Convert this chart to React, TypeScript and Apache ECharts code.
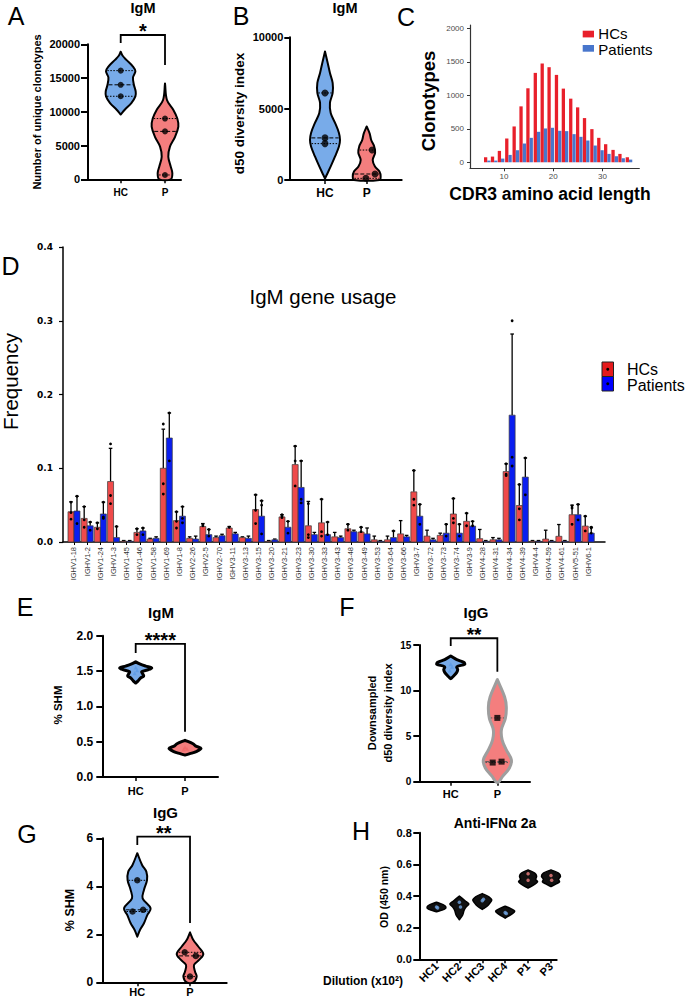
import React, { useEffect, useRef } from 'react';
import * as echarts from 'echarts';

const FONT = '"Liberation Sans", Arial, Helvetica, sans-serif';
const NARROW = '"Liberation Sans Narrow", "Liberation Sans", Arial, sans-serif';

// ---------- shared ----------
const groupLabels = ['HC', 'P'];
const HC_FILL = '#78abe9';
const P_FILL = '#f47e7e';

// ---------- Panel A ----------
const aHcPoints = [[1, 16100], [1, 14000], [1, 12300]];
const aPPoints = [[2, 9000], [2, 7100], [2, 640]];
const aHcProfile = [[18900, 0], [18300, 0.13], [17700, 0.38], [16700, 0.82], [16000, 0.98], [15100, 0.82], [14000, 0.88], [13000, 1.0], [12300, 0.98], [11300, 0.71], [10300, 0.27], [9600, 0]];
const aPProfile = [[14200, 0], [11750, 0.13], [10300, 0.55], [9000, 0.82], [7800, 0.89], [6300, 0.67], [4850, 0.33], [3350, 0.22], [1900, 0.38], [900, 0.49], [0, 0.38]];
const aBracket = [21378, 20192, 16933];

// ---------- Panel B ----------
const bHcPoints = [[1, 6100], [1, 2950], [1, 2550]];
const bPPoints = [[2.13, 2100], [2.2, 420], [1.98, 117]];
const bHcProfile = [[9000, 0], [8200, 0.18], [7500, 0.33], [6800, 0.51], [6100, 0.51], [5400, 0.33], [4700, 0.38], [4000, 0.67], [3300, 0.93], [2800, 1.0], [2350, 0.93], [1650, 0.67], [950, 0.38], [350, 0.11], [100, 0]];
const bPProfile = [[3750, 0], [3250, 0.2], [2800, 0.3], [2350, 0.5], [1900, 0.56], [1400, 0.4], [950, 0.55], [600, 0.85], [250, 0.93], [0, 0.85]];

// ---------- Panel C ----------
const cdrLength = [6.6, 8.0, 9.4, 10.9, 12.4, 13.8, 15.2, 16.7, 18.1, 19.5, 21.0, 22.4, 23.9, 25.3, 26.7, 28.2, 29.6, 31.0, 32.5, 33.9, 35.4];
const cdrHC = [75, 85, 170, 355, 535, 835, 1105, 1335, 1475, 1420, 1305, 1100, 950, 820, 660, 495, 365, 270, 185, 125, 75];
const cdrPatients = [25, 25, 55, 110, 180, 280, 365, 455, 505, 515, 470, 465, 420, 380, 325, 250, 180, 125, 90, 60, 40];
const cdrYTicks = [0, 500, 1000, 1500, 2000];
const cdrXTicks = [10, 20, 30];

// ---------- Panel D ----------
const genes = ['IGHV1-18', 'IGHV1-2', 'IGHV1-24', 'IGHV1-3', 'IGHV1-45', 'IGHV1-46', 'IGHV1-58', 'IGHV1-69', 'IGHV1-8', 'IGHV2-26', 'IGHV2-5', 'IGHV2-70', 'IGHV3-11', 'IGHV3-13', 'IGHV3-15', 'IGHV3-20', 'IGHV3-21', 'IGHV3-23', 'IGHV3-30', 'IGHV3-33', 'IGHV3-43', 'IGHV3-48', 'IGHV3-49', 'IGHV3-53', 'IGHV3-64', 'IGHV3-66', 'IGHV3-7', 'IGHV3-72', 'IGHV3-73', 'IGHV3-74', 'IGHV3-9', 'IGHV4-28', 'IGHV4-31', 'IGHV4-34', 'IGHV4-39', 'IGHV4-4', 'IGHV4-59', 'IGHV4-61', 'IGHV5-51', 'IGHV6-1'];
const hcMean = [0.041, 0.032, 0.020, 0.082, 0.001, 0.013, 0.004, 0.100, 0.029, 0.005, 0.021, 0.006, 0.019, 0.006, 0.044, 0.001, 0.034, 0.105, 0.022, 0.026, 0.007, 0.018, 0.0135, 0.003, 0.003, 0.011, 0.068, 0.008, 0.009, 0.038, 0.028, 0.0045, 0.003, 0.0955, 0.0495, 0.001, 0.004, 0.0077, 0.037, 0.0216];
const hcSd = [0.0135, 0.016, 0.006, 0.045, 0.001, 0.005, 0.001, 0.053, 0.012, 0.002, 0.004, 0.002, 0.002, 0.001, 0.020, 0.001, 0.003, 0.025, 0.033, 0.032, 0.006, 0.006, 0.0065, 0.005, 0.005, 0.018, 0.029, 0.008, 0.003, 0.021, 0.011, 0.0125, 0.003, 0.0105, 0.0285, 0.001, 0.012, 0.016, 0.013, 0.0134];
const paMean = [0.042, 0.022, 0.038, 0.006, 0.001, 0.015, 0.005, 0.141, 0.035, 0.004, 0.010, 0.0085, 0.011, 0.005, 0.035, 0.003, 0.020, 0.074, 0.010, 0.010, 0.006, 0.014, 0.011, 0.001, 0.006, 0.007, 0.035, 0.003, 0.012, 0.012, 0.0216, 0.001, 0.003, 0.172, 0.088, 0.001, 0.001, 0.001, 0.037, 0.012];
const paSd = [0.020, 0.005, 0.016, 0.015, 0.001, 0.004, 0.002, 0.034, 0.013, 0.004, 0.007, 0.002, 0.002, 0.003, 0.021, 0.001, 0.008, 0.036, 0.003, 0.017, 0.002, 0.002, 0.008, 0.001, 0.009, 0.002, 0.016, 0.002, 0.012, 0.012, 0.0064, 0.001, 0.002, 0.110, 0.026, 0.001, 0.001, 0.001, 0.014, 0.008];
const hcGenePoints = [[1, 0.054], [1, 0.040], [1, 0.031], [2, 0.048], [2, 0.020], [2, 0.030], [3, 0.026], [3, 0.018], [4, 0.133], [4, 0.063], [4, 0.052], [6, 0.018], [6, 0.010], [8, 0.160], [8, 0.079], [8, 0.065], [9, 0.041], [9, 0.019], [9, 0.028], [11, 0.024], [11, 0.022], [13, 0.020], [15, 0.064], [15, 0.025], [15, 0.043], [17, 0.037], [17, 0.035], [17, 0.033], [18, 0.130], [18, 0.076], [18, 0.110], [19, 0.052], [19, 0.006], [19, 0.010], [20, 0.058], [20, 0.014], [20, 0.008], [22, 0.024], [22, 0.016], [23, 0.020], [23, 0.014], [27, 0.097], [27, 0.058], [27, 0.050], [30, 0.059], [30, 0.032], [30, 0.026], [31, 0.039], [31, 0.022], [34, 0.106], [34, 0.090], [34, 0.092], [35, 0.078], [35, 0.045], [35, 0.030], [39, 0.049], [39, 0.046], [39, 0.024], [40, 0.035], [40, 0.015]];
const paGenePoints = [[1, 0.062], [1, 0.025], [2, 0.027], [2, 0.016], [3, 0.054], [3, 0.032], [3, 0.034], [4, 0.021], [6, 0.019], [6, 0.010], [8, 0.175], [8, 0.110], [9, 0.048], [9, 0.032], [9, 0.026], [11, 0.017], [11, 0.008], [15, 0.056], [15, 0.011], [15, 0.050], [17, 0.028], [17, 0.012], [18, 0.110], [18, 0.058], [18, 0.053], [20, 0.027], [20, 0.010], [25, 0.015], [27, 0.051], [27, 0.024], [29, 0.024], [29, 0.008], [30, 0.024], [30, 0.008], [31, 0.028], [31, 0.022], [34, 0.300], [34, 0.115], [34, 0.103], [35, 0.114], [35, 0.064], [39, 0.051], [39, 0.030], [40, 0.020], [40, 0.012], [40, 0.019]];

// ---------- Panel E ----------
const eHcPoints = [[1, 1.55], [1.03, 1.51], [0.98, 1.47]];
const ePPoints = [[2, 0.42], [2.04, 0.40], [1.97, 0.39]];
const eHcProfile = [[1.63, 0], [1.60, 0.25], [1.57, 0.62], [1.545, 1.0], [1.52, 0.8], [1.49, 0.38], [1.46, 0.44], [1.43, 0.5], [1.40, 0.3], [1.36, 0.15], [1.33, 0]];
const ePProfile = [[0.52, 0], [0.47, 0.5], [0.44, 0.65], [0.405, 1.0], [0.36, 0.7], [0.33, 0.3], [0.31, 0]];
const eBracket = [1.883, 1.755, 0.641];

// ---------- Panel F ----------
const fHcPoints = [[1, 12.9], [1.03, 12.6], [0.98, 12.2]];
const fPPoints = [[2, 7.0], [1.9, 2.1], [2.09, 2.2]];
const fHcProfile = [[13.8, 0], [13.4, 0.43], [13.1, 0.93], [12.9, 1.0], [12.6, 0.43], [12.3, 0.5], [12.0, 0.43], [11.6, 0.21], [11.3, 0]];
const fPProfile = [[11.2, 0], [9.3, 0.52], [8.2, 0.64], [6.95, 0.57], [5.7, 0.29], [4.6, 0.34], [3.5, 0.64], [2.4, 1.0], [1.5, 0.86], [0.55, 0.36], [0, 0.1]];
const fBracket = [15.74, 14.89, 12.07];

// ---------- Panel G ----------
const gHcPoints = [[1, 4.25], [0.91, 2.95], [1.11, 3.02]];
const gPPoints = [[1.9, 1.25], [2.11, 1.1], [2, 0.24]];
const gHcProfile = [[5.38, 0], [4.89, 0.36], [4.61, 0.68], [4.26, 0.73], [3.85, 0.5], [3.5, 0.4], [3.08, 1.0], [2.8, 0.75], [2.46, 0.5], [2.18, 0.2], [1.9, 0]];
const gPProfile = [[2.08, 0], [1.76, 0.25], [1.49, 0.62], [1.18, 1.0], [0.93, 0.68], [0.72, 0.3], [0.44, 0.38], [0.24, 0.5], [0, 0.25]];
const gBracket = [6.07, 5.72, 2.47];

// ---------- Panel H ----------
const hCats = ['HC1', 'HC2', 'HC3', 'HC4', 'P1', 'P3'];
const hProfiles = [
  [[0.36, 0], [0.345, 0.7], [0.33, 1.0], [0.315, 0.8], [0.30, 0]],
  [[0.40, 0], [0.37, 0.6], [0.35, 1.0], [0.33, 0.7], [0.31, 0.5], [0.28, 0.35], [0.25, 0]],
  [[0.415, 0], [0.395, 0.7], [0.375, 1.0], [0.355, 0.8], [0.335, 0.5], [0.315, 0]],
  [[0.335, 0], [0.32, 0.6], [0.305, 1.0], [0.29, 0.8], [0.275, 0.4], [0.26, 0]],
  [[0.565, 0], [0.545, 0.7], [0.525, 0.9], [0.505, 0.8], [0.49, 1.0], [0.47, 0.6], [0.45, 0]],
  [[0.565, 0], [0.545, 0.8], [0.525, 1.0], [0.505, 0.8], [0.49, 0.9], [0.475, 0.5], [0.46, 0]],
];
const hHcPoints = [[1, 0.33], [1.05, 0.325], [2, 0.36], [2.05, 0.33], [3, 0.37], [3.05, 0.38], [4, 0.295], [4.05, 0.29]];
const hPPoints = [[5, 0.54], [5, 0.50], [6, 0.53], [6.03, 0.50]];

// ---------- helpers ----------
function interpWidth(profile: number[][], v: number): number {
  for (let i = 0; i < profile.length - 1; i++) {
    const [v0, w0] = profile[i];
    const [v1, w1] = profile[i + 1];
    if (v <= v0 && v >= v1) {
      const t = v0 === v1 ? 0 : (v0 - v) / (v0 - v1);
      return w0 + (w1 - w0) * t;
    }
  }
  return 0;
}

type VGroup = { pos: number; profile: number[][]; pts: number[][]; fill: string; stroke: string; lw: number; maxHalf: number; lines: boolean; lineColor?: string };

function violinSeries(gi: number, groups: VGroup[]) {
  return {
    type: 'custom', xAxisIndex: gi, yAxisIndex: gi, clip: false, z: 2, silent: true,
    data: groups.map((g) => [g.pos, g.profile[0][0]]),
    renderItem: (params: any, api: any) => {
      const g = groups[params.dataIndex];
      const left: number[][] = [];
      const right: number[][] = [];
      for (const [v, w] of g.profile) {
        const c = api.coord([g.pos, v]);
        left.push([c[0] - w * g.maxHalf, c[1]]);
        right.push([c[0] + w * g.maxHalf, c[1]]);
      }
      const children: any[] = [{
        type: 'polygon',
        shape: { points: left.concat(right.reverse()), smooth: 0.35 },
        style: { fill: g.fill, stroke: g.stroke, lineWidth: g.lw, lineJoin: 'round' },
      }];
      if (g.lines) {
        const ys = g.pts.map((p) => p[1]).sort((a, b) => a - b);
        ys.forEach((v, k) => {
          const c = api.coord([g.pos, v]);
          const hw = Math.max(0, interpWidth(g.profile, v) * g.maxHalf - g.lw / 2);
          children.push({
            type: 'line',
            shape: { x1: c[0] - hw, y1: c[1], x2: c[0] + hw, y2: c[1] },
            style: { stroke: g.lineColor || '#000', lineWidth: 1, lineDash: k === 1 ? [4, 2] : [1.5, 1.5] },
          });
        });
      }
      return { type: 'group', children };
    },
  };
}

function pointSeries(gi: number, data: number[][], color: string, size: number, symbol = 'circle') {
  return { type: 'scatter', xAxisIndex: gi, yAxisIndex: gi, data, symbol, symbolSize: size, itemStyle: { color }, z: 5, silent: true };
}

function bracketSeries(gi: number, br: number[], star: string, fs: number) {
  return {
    type: 'custom', xAxisIndex: gi, yAxisIndex: gi, clip: false, z: 3, silent: true,
    data: [[1.5, br[0]]],
    renderItem: (_p: any, api: any) => {
      const a = api.coord([1, br[1]]);
      const b = api.coord([1, br[0]]);
      const c = api.coord([2, br[0]]);
      const d = api.coord([2, br[2]]);
      return {
        type: 'group',
        children: [
          { type: 'polyline', shape: { points: [a, b, c, d] }, style: { stroke: '#000', lineWidth: 1.8, fill: 'none' } },
          { type: 'text', x: (b[0] + c[0]) / 2, y: b[1] - 8 + 0.22 * fs, style: { text: star, fontSize: fs, fontWeight: 'bold', fontFamily: FONT, fill: '#000', align: 'center', verticalAlign: 'middle' } },
        ],
      };
    },
  };
}

const plain = (v: number) => String(v);

function vAxes(gi: number, xMin: number, xMax: number, yMin: number, yMax: number, yInt: number, cats: string[], o: any) {
  const vals = cats.map((_, i) => i + 1);
  const x = {
    type: 'value', gridIndex: gi, min: xMin, max: xMax,
    axisLine: { show: true, onZero: false, lineStyle: { color: '#000', width: 2 } },
    axisTick: { show: true, customValues: vals, length: 4, lineStyle: { color: '#000', width: 1.5 } },
    axisLabel: {
      show: true, customValues: vals, formatter: (v: number) => cats[Math.round(v) - 1] ?? '',
      fontSize: o.xfs, fontWeight: 'bold', color: '#000', margin: o.xm, rotate: o.rot || 0, fontFamily: FONT,
    },
    splitLine: { show: false },
  };
  const y: any = {
    type: 'value', gridIndex: gi, min: yMin, max: yMax, interval: yInt,
    axisLine: { show: true, onZero: false, lineStyle: { color: '#000', width: 2 } },
    axisTick: { show: true, length: o.tl || 6, lineStyle: { color: '#000', width: 2 } },
    axisLabel: { fontSize: o.yfs, fontWeight: 'bold', color: '#000', margin: o.ym, fontFamily: FONT, formatter: o.yfmt || plain },
    splitLine: { show: false },
  };
  return [x, y];
}

function txt(t: string, x: number, y: number, fs: number, opts: any = {}) {
  return {
    type: 'text', x, y, rotation: opts.rot ? Math.PI / 2 : 0, silent: true,
    style: {
      text: t, fontSize: fs, fontWeight: opts.bold ? 'bold' : 'normal', fontFamily: opts.font || FONT,
      fill: opts.color || '#000', align: opts.align || 'center', verticalAlign: 'middle',
    },
  };
}

function buildOption() {
  const f1 = (v: number) => v.toFixed(1);
  const [xa, ya] = vAxes(0, 0.262, 2.361, 0, 20000, 5000, groupLabels, { xfs: 10, xm: 8, yfs: 11, ym: 8, tl: 7 });
  const [xb, yb] = vAxes(1, 0.144, 2.839, 0, 10000, 5000, groupLabels, { xfs: 12, xm: 7, yfs: 11, ym: 6, tl: 5 });
  const [xe, ye] = vAxes(4, 0.323, 2.669, 0, 2, 0.5, groupLabels, { xfs: 11, xm: 8, yfs: 12, ym: 9, yfmt: f1 });
  const [xf, yf] = vAxes(5, 0.326, 2.70, 0, 15, 5, groupLabels, { xfs: 11, xm: 7, yfs: 10, ym: 8 });
  const [xg, yg] = vAxes(6, 0.336, 2.696, 0, 6, 2, groupLabels, { xfs: 11, xm: 4, yfs: 12, ym: 9 });
  const [xh, yh] = vAxes(7, 0.25, 6.25, 0, 0.8, 0.2, hCats, { xfs: 11, xm: 5, rot: 45, yfs: 11, ym: 7.5, yfmt: f1 });

  const xc = {
    type: 'value', gridIndex: 2, min: 3.09, max: 37.5,
    axisLine: { show: true, onZero: false, lineStyle: { color: '#333', width: 1.2 } },
    axisTick: { show: true, customValues: cdrXTicks, length: 3, lineStyle: { color: '#333', width: 1 } },
    axisLabel: { customValues: cdrXTicks, fontSize: 8, color: '#4d4d4d', margin: 4, fontFamily: FONT, formatter: plain },
    splitLine: { show: false },
  };
  const yc = {
    type: 'value', gridIndex: 2, min: -90, max: 2050,
    axisLine: { show: true, onZero: false, lineStyle: { color: '#333', width: 1.2 } },
    axisTick: { show: true, customValues: cdrYTicks, length: 3, lineStyle: { color: '#333', width: 1 } },
    axisLabel: { customValues: cdrYTicks, fontSize: 8, color: '#4d4d4d', margin: 6, fontFamily: FONT, formatter: plain },
    splitLine: { show: false },
  };
  const geneVals = genes.map((_, i) => i + 1);
  const xd = {
    type: 'value', gridIndex: 3, min: 0.166, max: 41.27,
    axisLine: { show: true, onZero: false, lineStyle: { color: '#000', width: 1.5 } },
    axisTick: { show: true, customValues: geneVals, length: 3, lineStyle: { color: '#000', width: 1 } },
    axisLabel: {
      customValues: geneVals, formatter: (v: number) => genes[Math.round(v) - 1] ?? '',
      rotate: 90, fontSize: 7.5, color: '#333', margin: 5, fontFamily: NARROW,
    },
    splitLine: { show: false },
  };
  const yd = {
    type: 'value', gridIndex: 3, min: 0, max: 0.4, interval: 0.1,
    axisLine: { show: true, onZero: false, lineStyle: { color: '#000', width: 1.5 } },
    axisTick: { show: true, length: 4, lineStyle: { color: '#000', width: 1.2 } },
    axisLabel: { fontSize: 9, fontWeight: 'bold', color: '#000', margin: 10, formatter: f1, fontFamily: '"DejaVu Sans", sans-serif' },
    splitLine: { show: false },
  };

  const cdrBars = {
    type: 'custom', xAxisIndex: 2, yAxisIndex: 2, clip: false, z: 2, silent: true,
    data: cdrLength.map((x, i) => [x, cdrHC[i], cdrPatients[i]]),
    renderItem: (_p: any, api: any) => {
      const x = api.value(0);
      const base = api.coord([x, 0]);
      const th = api.coord([x, api.value(1)]);
      const tp = api.coord([x, api.value(2)]);
      const bw = 3.3;
      return {
        type: 'group',
        children: [
          { type: 'rect', shape: { x: base[0] - bw, y: th[1], width: bw, height: base[1] - th[1] }, style: { fill: '#e8202b' } },
          { type: 'rect', shape: { x: base[0], y: tp[1], width: bw, height: base[1] - tp[1] }, style: { fill: '#4876cc' } },
        ],
      };
    },
  };

  const BW = 6;
  const geneBarSeries = (means: number[], sds: number[], color: string, side: number) => ({
    type: 'custom', xAxisIndex: 3, yAxisIndex: 3, clip: false, z: 3, silent: true,
    data: genes.map((_, i) => [i + 1, means[i], sds[i]]),
    renderItem: (_p: any, api: any) => {
      const x = api.value(0);
      const m = api.value(1);
      const s = api.value(2);
      const base = api.coord([x, 0]);
      const top = api.coord([x, m]);
      const et = api.coord([x, m + s]);
      const x0 = side < 0 ? base[0] - BW : base[0];
      const cx = x0 + BW / 2;
      return {
        type: 'group',
        children: [
          { type: 'line', shape: { x1: cx, y1: top[1], x2: cx, y2: et[1] }, style: { stroke: '#000', lineWidth: 1.3 } },
          { type: 'line', shape: { x1: cx - 1.8, y1: et[1], x2: cx + 1.8, y2: et[1] }, style: { stroke: '#000', lineWidth: 1.3 } },
          { type: 'rect', shape: { x: x0, y: top[1], width: BW, height: base[1] - top[1] }, style: { fill: color, stroke: '#3a3a3a', lineWidth: 0.7 } },
        ],
      };
    },
  });
  const genePointSeries = (pts: number[][], side: number) => ({
    type: 'custom', xAxisIndex: 3, yAxisIndex: 3, clip: false, z: 4, silent: true,
    data: pts,
    renderItem: (_p: any, api: any) => {
      const c = api.coord([api.value(0), api.value(1)]);
      return { type: 'circle', shape: { cx: c[0] + side * BW / 2, cy: c[1], r: 1.4 }, style: { fill: '#000' } };
    },
  });

  const vg = (pos: number, profile: number[][], pts: number[][], fill: string, extra: any = {}): VGroup => ({
    pos, profile, pts, fill, stroke: '#000', lw: 2, maxHalf: 15, lines: true, ...extra,
  });

  const series: any[] = [
    // A
    violinSeries(0, [vg(1, aHcProfile, aHcPoints, HC_FILL), vg(2, aPProfile, aPPoints, P_FILL)]),
    pointSeries(0, aHcPoints, '#000', 6), pointSeries(0, aPPoints, '#000', 6),
    bracketSeries(0, aBracket, '*', 20),
    // B
    violinSeries(1, [vg(1, bHcProfile, bHcPoints, HC_FILL), vg(2, bPProfile, bPPoints, P_FILL)]),
    pointSeries(1, bHcPoints, '#000', 7), pointSeries(1, bPPoints, '#000', 7),
    // C
    cdrBars,
    // D
    geneBarSeries(hcMean, hcSd, '#ef4a4a', -1),
    geneBarSeries(paMean, paSd, '#0a1ef0', 1),
    genePointSeries(hcGenePoints, -1),
    genePointSeries(paGenePoints, 1),
    // E
    violinSeries(4, [vg(1, eHcProfile, eHcPoints, HC_FILL, { maxHalf: 16, lw: 3, lines: false }), vg(2, ePProfile, ePPoints, P_FILL, { maxHalf: 16, lw: 3, lines: false })]),
    pointSeries(4, eHcPoints, '#5b9be6', 4, 'triangle'), pointSeries(4, ePPoints, '#f06a6a', 4, 'triangle'),
    bracketSeries(4, eBracket, '****', 20),
    // F
    violinSeries(5, [vg(1, fHcProfile, fHcPoints, HC_FILL, { maxHalf: 14, lw: 3, lines: false }), vg(2, fPProfile, fPPoints, P_FILL, { maxHalf: 14, lw: 3, stroke: '#9e9e9e', lineColor: '#555' })]),
    pointSeries(5, fHcPoints, '#5b9be6', 4, 'triangle'), pointSeries(5, fPPoints, '#000', 6, 'rect'),
    bracketSeries(5, fBracket, '**', 19),
    // G
    violinSeries(6, [vg(1, gHcProfile, gHcPoints, HC_FILL, { maxHalf: 13.3 }), vg(2, gPProfile, gPPoints, P_FILL, { maxHalf: 13.3 })]),
    pointSeries(6, gHcPoints, '#000', 6.5), pointSeries(6, gPPoints, '#000', 6.5),
    bracketSeries(6, gBracket, '**', 20),
    // H
    violinSeries(7, hProfiles.map((p, i) => vg(i + 1, p, [], '#111', { maxHalf: 9.5, lw: 1.5, lines: false }))),
    pointSeries(7, hHcPoints, '#6fa3e0', 3.5), pointSeries(7, hPPoints, '#f08080', 3.5),
  ];

  const graphic: any[] = [
    txt('A', 16, 16, 25),
    txt('IgM', 143, 8, 14.5, { bold: true }),
    txt('Number of unique clonotypes', 37, 112, 11, { bold: true, rot: true }),
    txt('B', 241, 16, 25),
    txt('IgM', 345, 8, 14.5, { bold: true }),
    txt('d50 diversity index', 239.5, 113.5, 13.5, { bold: true, rot: true }),
    txt('C', 406, 16.5, 25),
    txt('Clonotypes', 428, 101, 18.5, { bold: true, rot: true }),
    txt('CDR3 amino acid length', 550, 194, 17.5, { bold: true }),
    { type: 'rect', shape: { x: 582.7, y: 30.7, width: 11.3, height: 6.7 }, style: { fill: '#e8202b' } },
    { type: 'rect', shape: { x: 582.7, y: 45, width: 11.3, height: 6.7 }, style: { fill: '#4876cc' } },
    txt('HCs', 598.3, 33.3, 15, { align: 'left' }),
    txt('Patients', 598.3, 49.3, 15, { align: 'left' }),
    txt('D', 10.5, 266, 25),
    txt('IgM gene usage', 323, 296, 20.5),
    txt('Frequency', 10, 381.5, 20.5, { rot: true }),
    { type: 'rect', shape: { x: 602, y: 362, width: 11.5, height: 14.5 }, style: { fill: '#e41a1c', stroke: '#222', lineWidth: 1 } },
    { type: 'circle', shape: { cx: 607.75, cy: 369.25, r: 1.5 }, style: { fill: '#000' } },
    { type: 'rect', shape: { x: 602, y: 376.5, width: 11.5, height: 14.5 }, style: { fill: '#0000ff', stroke: '#222', lineWidth: 1 } },
    { type: 'circle', shape: { cx: 607.75, cy: 383.75, r: 1.5 }, style: { fill: '#000' } },
    txt('HCs', 627, 369.3, 16, { align: 'left' }),
    txt('Patients', 627, 385, 16, { align: 'left' }),
    txt('E', 25, 607, 25),
    txt('IgM', 161, 612, 15, { bold: true }),
    txt('% SHM', 58, 705, 11.5, { bold: true, rot: true }),
    txt('F', 347, 607, 25),
    txt('IgG', 476, 612, 15, { bold: true }),
    txt('Downsampled', 371.7, 713, 11, { bold: true, rot: true }),
    txt('d50 diversity index', 388.3, 713, 11, { bold: true, rot: true }),
    txt('G', 27, 834, 25),
    txt('IgG', 165.5, 812, 15, { bold: true }),
    txt('% SHM', 70, 910, 12.5, { bold: true, rot: true }),
    txt('H', 361, 831, 25),
    txt('Anti-IFNα 2a', 495, 822.5, 14, { bold: true }),
    txt('OD (450 nm)', 384, 897, 10.5, { bold: true, rot: true }),
    txt('Dilution (x10²)', 403, 980.5, 12, { bold: true, align: 'right' }),
  ];

  const grid = (left: number, top: number, width: number, height: number) => ({ left, top, width, height, containLabel: false, outerBoundsMode: 'none' });

  return {
    animation: false,
    backgroundColor: '#fff',
    textStyle: { fontFamily: FONT },
    grid: [
      grid(88, 44.3, 93, 135),
      grid(289.3, 37.3, 112.4, 142.7),
      grid(470, 25, 169.3, 143.3),
      grid(63, 247, 542, 295),
      grid(102.3, 635.7, 115.7, 141.3),
      grid(419.3, 645, 110.7, 136.7),
      grid(102.3, 838.3, 124.4, 144),
      grid(419.3, 832.7, 137.4, 126.6),
    ],
    xAxis: [xa, xb, xc, xd, xe, xf, xg, xh],
    yAxis: [ya, yb, yc, yd, ye, yf, yg, yh],
    series,
    graphic,
  };
}

export default function App() {
  const ref = useRef<HTMLDivElement>(null);
  useEffect(() => {
    const chart = echarts.init(ref.current as HTMLDivElement, null, { renderer: 'svg' });
    chart.setOption(buildOption() as any);
    return () => chart.dispose();
  }, []);
  return <div ref={ref} style={{ position: 'absolute', left: 0, top: 0, width: 693, height: 999, background: '#fff' }} />;
}
